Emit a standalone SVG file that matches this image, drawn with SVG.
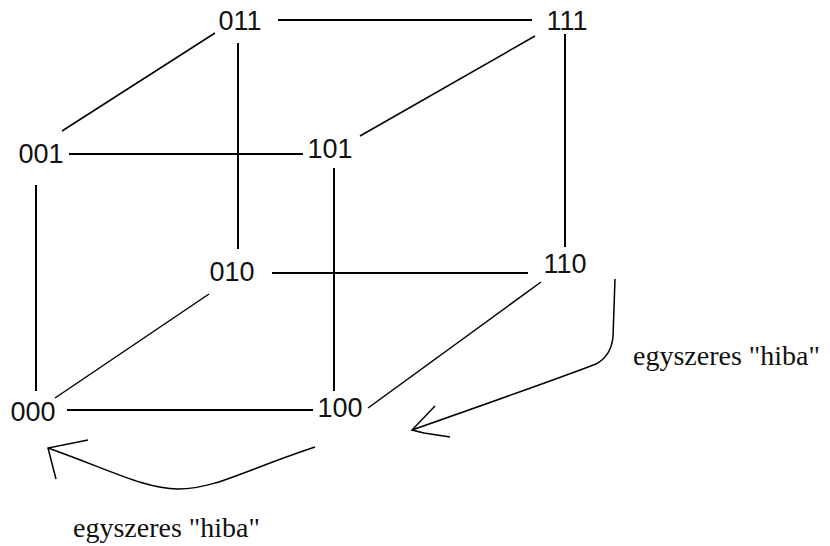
<svg xmlns="http://www.w3.org/2000/svg" width="830" height="546" viewBox="0 0 830 546">
<style>
.lbl{font-family:"Liberation Sans",Arial,sans-serif;font-size:27px;fill:#111;text-anchor:middle}
.note{font-family:"Liberation Serif","Times New Roman",serif;font-size:28px;fill:#111}
.e{stroke:#000;stroke-width:2;fill:none}
.d{stroke:#000;stroke-width:1.5;fill:none}
</style>
<rect width="830" height="546" fill="#fff"/>
<g id="connectors">
<line class="e" x1="278" y1="20" x2="532" y2="20"/>
<line class="d" x1="215" y1="33" x2="62" y2="131"/>
<line class="e" x1="238" y1="43" x2="238" y2="249"/>
<line class="e" x1="69" y1="154" x2="303" y2="154"/>
<line class="e" x1="36" y1="185" x2="36" y2="391"/>
<line class="d" x1="360" y1="136" x2="535" y2="36"/>
<line class="e" x1="565" y1="34" x2="565" y2="247"/>
<line class="e" x1="334" y1="168" x2="334" y2="391"/>
<line class="e" x1="272" y1="273" x2="528" y2="273"/>
<line class="d" x1="209" y1="294" x2="55" y2="398"/>
<line class="e" x1="67" y1="410" x2="313" y2="410"/>
<line class="d" x1="368" y1="408" x2="541" y2="282"/>
</g>
<g id="arrow-right">
<path class="d" d="M615,279 L613,337 Q611,356 596,364 Q560,378 412,430"/>
<path class="d" d="M435,406 L412,430 L424,433 L450,437"/>
</g>
<g id="arrow-bottom">
<path class="d" d="M315,447 C245,470 215,489 178,489 C145,489 110,470 48,448"/>
<path class="d" d="M88,440 L48,448 L56,479"/>
</g>
<g id="n011"><text class="lbl" x="240" y="30">011</text></g>
<g id="n111"><text class="lbl" x="567" y="30">111</text></g>
<g id="n001"><text class="lbl" x="41" y="163">001</text></g>
<g id="n101"><text class="lbl" x="330" y="158">101</text></g>
<g id="n010"><text class="lbl" x="232" y="281">010</text></g>
<g id="n110"><text class="lbl" x="565" y="273">110</text></g>
<g id="n000"><text class="lbl" x="33" y="421">000</text></g>
<g id="n100"><text class="lbl" x="340" y="417">100</text></g>
<g id="notes">
<text class="note" x="633" y="365">egyszeres "hiba"</text>
<text class="note" x="73" y="537">egyszeres "hiba"</text>
</g>
</svg>
